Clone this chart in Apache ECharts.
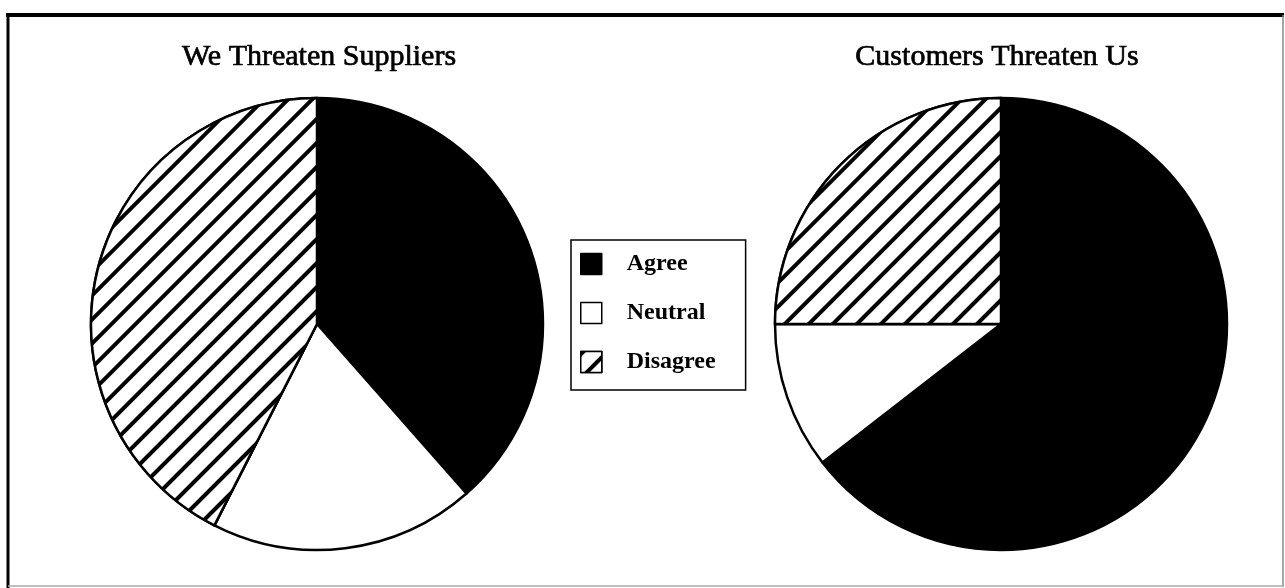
<!DOCTYPE html>
<html>
<head>
<meta charset="utf-8">
<script src="https://cdn.jsdelivr.net/npm/echarts@6/dist/echarts.min.js"></script>
<style>
  html, body { margin: 0; padding: 0; background: #fff; }
  #chart { width: 1285px; height: 588px; }
</style>
</head>
<body>
<div id="chart"></div>
<script>
const categories = ["Agree", "Neutral", "Disagree"];
const suppliersValues = [38.5, 19, 42.5];
const customersValues = [64.5, 10.5, 25];
const titles = ["We Threaten Suppliers", "Customers Threaten Us"];

const serif = "'Liberation Serif', 'DejaVu Serif', serif";

const hatch = {
  symbol: "rect",
  symbolSize: 1,
  color: "#000",
  backgroundColor: "#fff",
  dashArrayX: [1, 0],
  dashArrayY: [3.5, 13],
  rotation: -Math.PI / 4,
};

const sliceStyles = [
  { color: "#000" },
  { color: "#fff" },
  { color: "#fff", decal: hatch },
];

function buildData(values) {
  return categories.map(function (name, i) {
    return {
      name: name,
      value: values[i],
      itemStyle: Object.assign({ borderColor: "#000", borderWidth: 2.5 }, sliceStyles[i]),
    };
  });
}

function pieSeries(name, values, cx) {
  return {
    name: name,
    type: "pie",
    center: [cx, 324],
    radius: [0, 226],
    startAngle: 90,
    clockwise: true,
    label: { show: false },
    labelLine: { show: false },
    emphasis: { disabled: true },
    data: buildData(values),
  };
}

const titleStyle = {
  fontFamily: serif,
  fontSize: 30,
  fontWeight: "normal",
  color: "#000",
  textBorderColor: "#000",
  textBorderWidth: 0.7,
};

const chart = echarts.init(document.getElementById("chart"));

chart.setOption({
  animation: false,
  backgroundColor: "#fff",
  title: [
    { text: titles[0], left: 314, top: 37, textAlign: "center", textStyle: titleStyle },
    { text: titles[1], left: 992, top: 37, textAlign: "center", textStyle: titleStyle },
  ],
  legend: {
    orient: "vertical",
    left: 571,
    top: 240,
    data: categories,
    icon: "rect",
    itemWidth: 21,
    itemHeight: 21,
    itemGap: 25,
    padding: [12, 30, 16, 9],
    borderColor: "#000",
    borderWidth: 1.5,
    selectedMode: false,
    itemStyle: { borderColor: "#000", borderWidth: 1.5 },
    textStyle: {
      fontFamily: serif,
      fontSize: 24,
      fontWeight: "bold",
      color: "#000",
      padding: [0, 0, 0, 20],
    },
  },
  graphic: [
    { type: "line", shape: { x1: 6, y1: 15, x2: 1284, y2: 15 }, style: { stroke: "#000", lineWidth: 4 } },
    { type: "line", shape: { x1: 8, y1: 13, x2: 8, y2: 588 }, style: { stroke: "#000", lineWidth: 3 } },
    { type: "line", shape: { x1: 1283, y1: 15, x2: 1283, y2: 587 }, style: { stroke: "#888", lineWidth: 1.5 } },
    { type: "line", shape: { x1: 8, y1: 586, x2: 1283, y2: 586 }, style: { stroke: "#aaa", lineWidth: 1.5 } },
  ],
  series: [
    pieSeries(titles[0], suppliersValues, 317),
    pieSeries(titles[1], customersValues, 1001),
  ],
});
</script>
</body>
</html>
